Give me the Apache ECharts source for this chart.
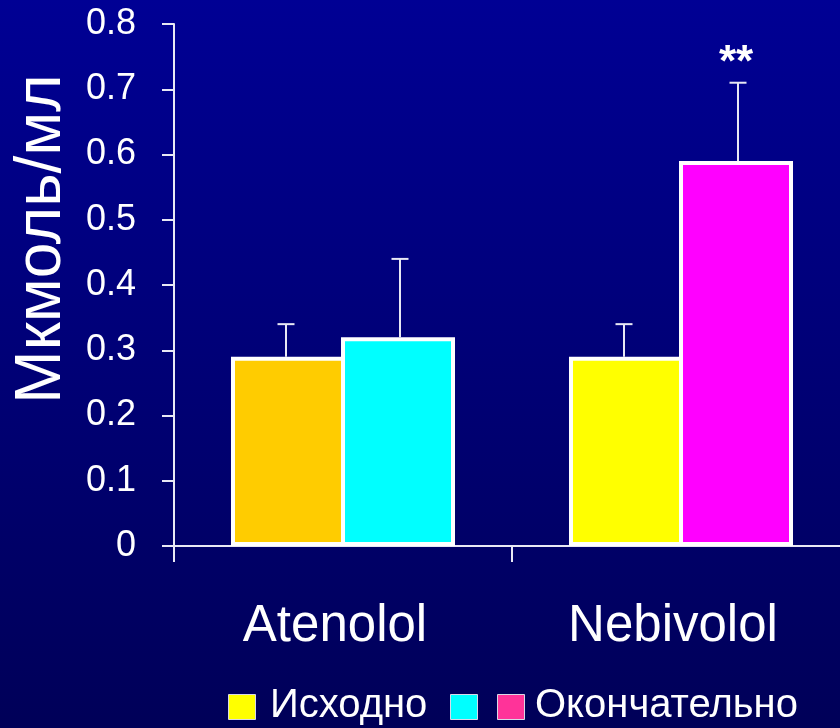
<!DOCTYPE html>
<html>
<head>
<meta charset="utf-8">
<script src="https://cdn.jsdelivr.net/npm/echarts@6/dist/echarts.min.js"></script>
<style>
  html, body { margin: 0; padding: 0; background: #000070; }
  #chart { width: 840px; height: 728px; }
</style>
</head>
<body>
<div id="chart"></div>
<script>
// Drug groups on the x axis
const categories = ['Atenolol', 'Nebivolol'];
// Baseline and final values (мкмоль/мл) with upper error (SD)
const baseline = [0.29, 0.29];
const baselineErr = [0.05, 0.05];
const finalVals = [0.32, 0.59];
const finalErr = [0.12, 0.12];
// Significance marks above the final bars
const finalSig = ['', '**'];
// Per-bar fill colours
const baselineColors = ['#FFCC00', '#FFFF00'];
const finalColors = ['#00FFFF', '#FF00FF'];
// Y axis ticks
const yTicks = [0, 0.1, 0.2, 0.3, 0.4, 0.5, 0.6, 0.7, 0.8];
// Legend entries
const legendNames = ['Исходно', '', 'Окончательно'];
const legendColors = ['#FFFF00', '#00FFFF', '#FF3399'];

const FONT = '"Liberation Sans", Arial, sans-serif';
const BAR_RATIO = 114 / 338;

const chart = echarts.init(document.getElementById('chart'), null, { renderer: 'canvas' });

function errorRenderer(values, errs, sigs, side) {
  return function (params, api) {
    const i = params.dataIndex;
    const band = api.size([1, 0])[0];
    const cx = api.coord([i, 0])[0] + side * band * BAR_RATIO / 2;
    const yTop = api.coord([i, values[i]])[1];
    const yErr = api.coord([i, values[i] + errs[i]])[1];
    const children = [
      { type: 'line', shape: { x1: cx, y1: yTop, x2: cx, y2: yErr },
        style: { stroke: '#E8E8F4', lineWidth: 2 } },
      { type: 'line', shape: { x1: cx - 8.5, y1: yErr, x2: cx + 8.5, y2: yErr },
        style: { stroke: '#E8E8F4', lineWidth: 2 } }
    ];
    if (sigs && sigs[i]) {
      children.push({ type: 'text', style: {
        x: cx - 2, y: yErr - 19, text: sigs[i], fill: '#ffffff',
        font: 'bold 44px ' + FONT, textAlign: 'center', textVerticalAlign: 'middle'
      } });
    }
    return { type: 'group', children: children };
  };
}

const legendGraphics = [];
const legendLeft = [228, 450, 497];
const legendTextLeft = [270, null, 535];
legendNames.forEach((name, k) => {
  legendGraphics.push({
    type: 'rect', left: legendLeft[k], top: 694,
    shape: { width: 27, height: 25 },
    style: { fill: legendColors[k], stroke: '#D8D8E8', lineWidth: 1 }
  });
  if (name) {
    legendGraphics.push({
      type: 'text', left: legendTextLeft[k], top: 686,
      style: { text: name, fill: '#ffffff', font: '40px ' + FONT }
    });
  }
});

const option = {
  backgroundColor: new echarts.graphic.LinearGradient(0, 0, 0, 1, [
    { offset: 0, color: '#000094' },
    { offset: 1, color: '#000058' }
  ]),
  animation: false,
  grid: {
    left: 174, top: 24, height: 522, width: 676,
    containLabel: false, outerBoundsMode: 'none'
  },
  xAxis: {
    type: 'category',
    data: categories,
    axisLine: { lineStyle: { color: '#E8E8F4', width: 2 } },
    axisTick: { show: true, length: 16, lineStyle: { color: '#E8E8F4', width: 2 } },
    axisLabel: { color: '#ffffff', fontSize: 51, fontFamily: FONT, margin: 55, padding: [0, 16, 0, 0] },
    splitLine: { show: false }
  },
  yAxis: {
    type: 'value',
    min: 0, max: 0.8, interval: 0.1,
    name: 'Мкмоль/мл',
    nameLocation: 'middle',
    nameGap: 100,
    nameTextStyle: { color: '#ffffff', fontSize: 64, fontFamily: FONT, padding: [0, 0, 0, 92] },
    axisLine: { show: true, lineStyle: { color: '#E8E8F4', width: 2 } },
    axisTick: { show: true, length: 12, lineStyle: { color: '#E8E8F4', width: 2 } },
    axisLabel: {
      color: '#ffffff', fontSize: 36, fontFamily: FONT, margin: 38,
      formatter: v => {
        const t = yTicks.find(x => Math.abs(x - v) < 1e-9);
        return t === undefined ? '' : String(t);
      }
    },
    splitLine: { show: false }
  },
  series: [
    {
      name: 'Исходно', type: 'bar', barWidth: (BAR_RATIO * 100) + '%', barGap: '-3.5%',
      data: baseline.map((v, i) => ({ value: v, itemStyle: { color: baselineColors[i] } })),
      itemStyle: { borderColor: '#ffffff', borderWidth: 4 }
    },
    {
      name: 'Окончательно', type: 'bar', barWidth: (BAR_RATIO * 100) + '%', barGap: '-3.5%',
      data: finalVals.map((v, i) => ({ value: v, itemStyle: { color: finalColors[i] } })),
      itemStyle: { borderColor: '#ffffff', borderWidth: 4 }
    },
    {
      type: 'custom', renderItem: errorRenderer(baseline, baselineErr, null, -1),
      data: baseline.map((v, i) => [i, v + baselineErr[i]]), z: 1
    },
    {
      type: 'custom', renderItem: errorRenderer(finalVals, finalErr, finalSig, 1),
      data: finalVals.map((v, i) => [i, v + finalErr[i]]), z: 1
    }
  ],
  graphic: legendGraphics
};

chart.setOption(option);
</script>
</body>
</html>
